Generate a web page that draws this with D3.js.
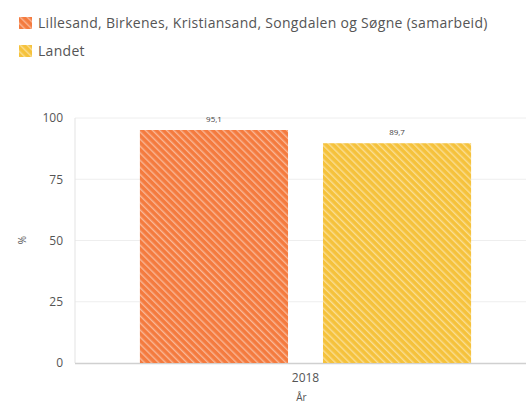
<!DOCTYPE html>
<html><head><meta charset="utf-8">
<script src="https://cdn.jsdelivr.net/npm/d3@7"></script>
<style>body{margin:0;background:#fff;font-family:"Open Sans",sans-serif;}</style>
</head><body>
<svg id="c" width="526" height="405"></svg>
<script>
const categories = ["2018"];
const seriesNames = ["Lillesand, Birkenes, Kristiansand, Songdalen og Søgne (samarbeid)", "Landet"];
const seriesValues = [[95.1], [89.7]];
const valueLabels = [["95,1"], ["89,7"]];
const yTicks = [0, 25, 50, 75, 100];
const colors = ["#f47b3f", "#f5c23c"];

const svg = d3.select("#c");
const defs = svg.append("defs");
colors.forEach((c, i) => {
  const p = defs.append("pattern").attr("id", "p" + i).attr("patternUnits", "userSpaceOnUse")
    .attr("width", 5).attr("height", 5).attr("patternTransform", "rotate(-45)");
  p.append("rect").attr("width", 5).attr("height", 5).attr("fill", c);
  p.append("rect").attr("x", 0).attr("width", 1.4).attr("height", 5).attr("fill", "#fff").attr("opacity", 0.45);
});

const m = {l: 75, r: 526, t: 118, b: 363};
const y = d3.scaleLinear().domain([0, 100]).range([m.b, m.t]);
const x0 = d3.scaleBand().domain(categories).range([m.l, 536]).paddingInner(0).paddingOuter(0.196);
const x1 = d3.scaleBand().domain(d3.range(seriesNames.length)).range([0, x0.bandwidth()]).paddingInner(0.191);

// grid
svg.append("g").selectAll("line").data(yTicks.filter(d => d > 0)).join("line")
  .attr("x1", m.l).attr("x2", m.r).attr("y1", d => y(d)).attr("y2", d => y(d))
  .attr("stroke", "#eeeeee").attr("stroke-width", 1);
svg.append("line").attr("x1", m.l).attr("x2", m.l).attr("y1", m.t).attr("y2", m.b)
  .attr("stroke", "#e3e3e3");
svg.append("line").attr("x1", m.l).attr("x2", m.r).attr("y1", m.b + 0.5).attr("y2", m.b + 0.5)
  .attr("stroke", "#d0d0d0").attr("stroke-width", 1.5);

// y axis labels
const ya = svg.append("g").attr("transform", `translate(${m.l - 12},0)`)
  .call(d3.axisLeft(y).tickValues(yTicks).tickSize(0).tickPadding(0));
ya.select(".domain").remove();
ya.selectAll("text").attr("fill", "#555").style("font-size", "12px").style("font-family", "Open Sans");

// bars
seriesNames.forEach((s, i) => {
  categories.forEach((c, j) => {
    const bx = x0(c) + x1(i), v = seriesValues[i][j];
    svg.append("rect").attr("x", bx).attr("y", y(v)).attr("width", x1.bandwidth()).attr("height", y(0) - y(v))
      .attr("fill", `url(#p${i})`);
    svg.append("text").attr("x", bx + x1.bandwidth() / 2).attr("y", y(v) - 8)
      .attr("text-anchor", "middle").attr("fill", "#444").style("font-size", "8px").text(valueLabels[i][j]);
  });
});

// x axis
const xa = svg.append("g").attr("transform", `translate(0,${m.b + 10})`)
  .call(d3.axisBottom(x0).tickSize(0).tickPadding(0));
xa.select(".domain").remove();
xa.selectAll("text").attr("fill", "#555").style("font-size", "12px").style("font-family", "Open Sans").attr("dy", "0.71em");

svg.append("text").attr("x", x0("2018") + x0.bandwidth() / 2 - 4).attr("y", 401).attr("text-anchor", "middle")
  .attr("fill", "#555").style("font-size", "10px").text("År");
svg.append("text").attr("transform", "translate(22,240) rotate(-90)").attr("text-anchor", "middle")
  .attr("dy", "0.35em").attr("fill", "#555").style("font-size", "10px").text("%");

// legend
seriesNames.forEach((s, i) => {
  const g = svg.append("g").attr("transform", `translate(19,${17 + i * 28})`);
  g.append("rect").attr("width", 13).attr("height", 12).attr("fill", `url(#p${i})`);
  g.append("text").attr("x", 19).attr("y", 11).attr("fill", "#555").style("font-size", "14px")
    .style("letter-spacing", "0.3px").text(s);
});
</script>
</body></html>
